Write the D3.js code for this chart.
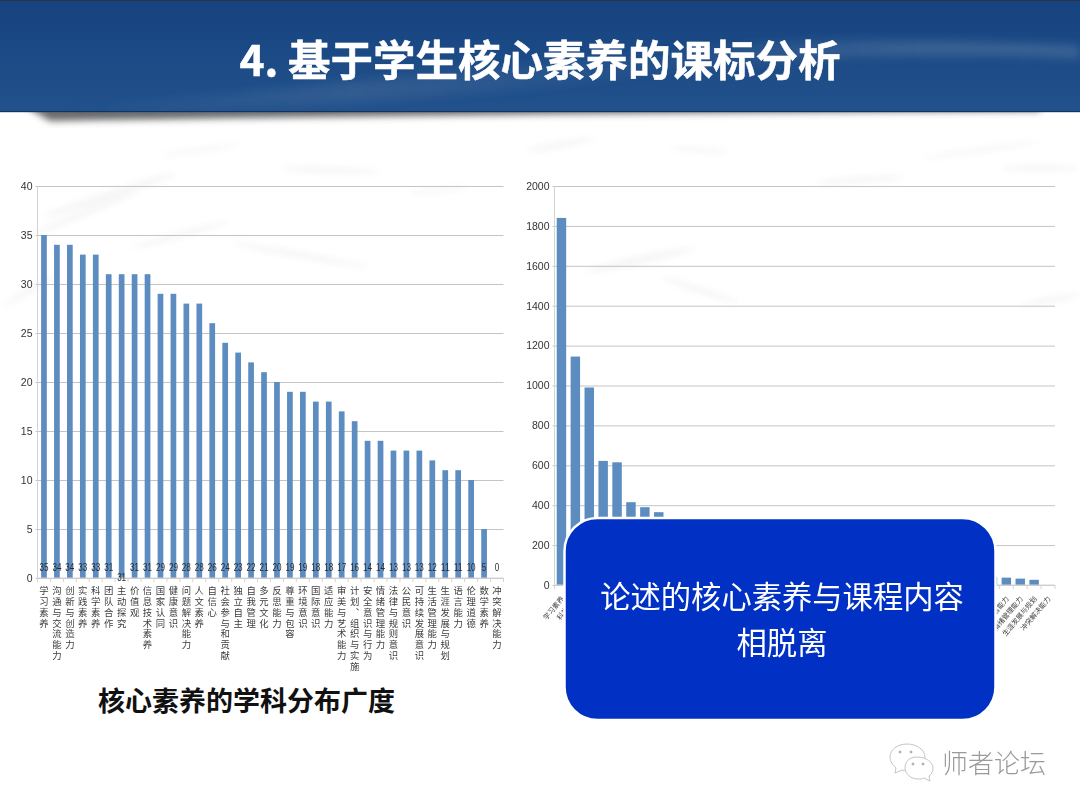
<!DOCTYPE html>
<html>
<head>
<meta charset="utf-8">
<script src="https://cdn.jsdelivr.net/npm/d3@7"></script>
<style>
  html, body { margin: 0; padding: 0; background: #fff; }
  svg { display: block; }
  .tick-label { font-family: "Liberation Sans Narrow", "Liberation Sans", sans-serif; font-size: 10.5px; fill: #333; }
  .cat-label { font-family: "Noto Sans CJK SC", sans-serif; fill: #3c3c3c; }
  .value-label { font-family: "Liberation Sans", sans-serif; font-size: 11px; fill: #2c2c2c; }
</style>
</head>
<body>
<div id="chart"></div>
<script>
const leftCategories = ['学习素养', '沟通与交流能力', '创新与创造力', '实践素养', '科学素养', '团队合作',
  '主动探究', '价值观', '信息技术素养', '国家认同', '健康意识', '问题解决能力', '人文素养', '自信心',
  '社会参与和贡献', '独立自主', '自我管理', '多元文化', '反思能力', '尊重与包容', '环境意识', '国际意识',
  '适应能力', '审美与艺术能力', '计划、组织与实施', '安全意识与行为', '情绪管理能力', '法律与规则意识',
  '公民意识', '可持续发展意识', '生活管理能力', '生涯发展与规划', '语言能力', '伦理道德', '数学素养', '冲突解决能力'];
const leftValues = [35, 34, 34, 33, 33, 31, 31, 31, 31, 29, 29, 28, 28, 26, 24, 23, 22, 21,
  20, 19, 19, 18, 18, 17, 16, 14, 14, 13, 13, 13, 12, 11, 11, 10, 5, 0];
const leftTicks = [0, 5, 10, 15, 20, 25, 30, 35, 40];

// the middle of this chart sits behind the blue box, those values are guesses
const rightCategories = ['学习素养', '科学素养', '实践素养', '创新与创造力', '沟通与交流能力', '团队合作',
  '主动探究', '价值观', '信息技术素养', '国家认同', '健康意识', '问题解决能力', '人文素养', '自信心',
  '社会参与和贡献', '独立自主', '自我管理', '多元文化', '尊重与包容', '环境意识', '国际意识',
  '适应能力', '审美与艺术能力', '计划、组织与实施', '安全意识与行为', '法律与规则意识', '公民意识',
  '可持续发展意识', '生活管理能力', '伦理道德', '数学素养', '反思能力', '语言能力', '情绪管理能力', '生涯发展与规划', '冲突解决能力'];
const rightValues = [1840, 1145, 990, 622, 615, 415, 390, 365, 320, 290, 260, 240, 220, 200, 185, 170,
  155, 140, 130, 120, 110, 100, 92, 85, 78, 72, 66, 60, 55, 50, 45, 40, 37, 32, 26, 0];
const rightTicks = [0, 200, 400, 600, 800, 1000, 1200, 1400, 1600, 1800, 2000];

const titleText = '4. 基于学生核心素养的课标分析';
const leftCaption = '核心素养的学科分布广度';
const boxLines = ['论述的核心素养与课程内容', '相脱离'];
const watermark = '师者论坛';

const width = 1080, height = 811;
const svg = d3.select('#chart').append('svg').attr('width', width).attr('height', height);
const defs = svg.append('defs');

function blur(id, amount) {
  defs.append('filter').attr('id', id)
      .attr('x', '-20%').attr('y', '-200%').attr('width', '140%').attr('height', '500%')
      .append('feGaussianBlur').attr('stdDeviation', amount);
}
blur('soft', 0.35);
blur('wisp', 3);
blur('shade', 3.5);
blur('glow', 5);

const headGrad = defs.append('linearGradient').attr('id', 'head').attr('x1', 0).attr('x2', 0).attr('y1', 0).attr('y2', 1);
headGrad.append('stop').attr('offset', 0).attr('stop-color', '#16437f');
headGrad.append('stop').attr('offset', 1).attr('stop-color', '#22518c');

const wedgeGrad = defs.append('linearGradient').attr('id', 'wedge').attr('x1', 0).attr('x2', 1).attr('y1', 0).attr('y2', 0);
wedgeGrad.append('stop').attr('offset', 0).attr('stop-color', '#3f6797').attr('stop-opacity', 0);
wedgeGrad.append('stop').attr('offset', 0.3).attr('stop-color', '#3f6797').attr('stop-opacity', 0.55);
wedgeGrad.append('stop').attr('offset', 0.6).attr('stop-color', '#3f6797').attr('stop-opacity', 0.15);
wedgeGrad.append('stop').attr('offset', 0.85).attr('stop-color', '#3f6797').attr('stop-opacity', 0.85);
wedgeGrad.append('stop').attr('offset', 1).attr('stop-color', '#3f6797').attr('stop-opacity', 0.9);

function drawBackground() {
  const wisps = svg.append('g').attr('fill', '#f1f1f1').attr('opacity', 0.7).attr('filter', 'url(#wisp)');
  const shapes = [[110, 195, 70, 4, -18], [80, 215, 60, 3, -22], [200, 150, 40, 2, -8], [330, 170, 50, 3, 2],
    [560, 145, 35, 3, -10], [700, 150, 30, 2, 4], [860, 180, 45, 3, -4], [1040, 168, 40, 3, 0],
    [980, 150, 60, 2, -8], [640, 260, 55, 4, -12], [700, 290, 40, 3, 18], [300, 255, 70, 3, 10],
    [180, 235, 50, 3, -15], [30, 290, 30, 3, -30], [1050, 300, 30, 3, -10], [440, 190, 30, 2, -6]];
  shapes.forEach(s => {
    wisps.append('ellipse').attr('cx', s[0]).attr('cy', s[1]).attr('rx', s[2]).attr('ry', s[3])
         .attr('transform', `rotate(${s[4]} ${s[0]} ${s[1]})`);
  });
}

function drawHeader() {
  // shadow under the band, heavy on the left and thinning out to the right
  svg.append('path')
     .attr('d', 'M25,106 L1040,106 L1040,111 C700,112 350,116 50,121 Z')
     .attr('fill', '#444').attr('opacity', 0.8).attr('filter', 'url(#shade)');
  svg.append('rect').attr('width', width).attr('height', 112).attr('fill', 'url(#head)');
  svg.append('path')
     .attr('d', 'M45,111 C220,95 520,65 760,44 C860,38 1000,42 1080,46 L1080,58 C880,50 720,62 600,80 C400,105 200,111 45,111 Z')
     .attr('fill', 'url(#wedge)').attr('filter', 'url(#glow)');
  svg.append('rect').attr('width', width).attr('height', 1).attr('fill', '#2b3445');
  svg.append('rect').attr('y', 111).attr('width', width).attr('height', 1.2).attr('fill', '#123461');
  svg.append('text').attr('x', 540).attr('y', 76).attr('text-anchor', 'middle')
     .attr('font-family', '"Noto Sans CJK SC", sans-serif').attr('font-weight', 700)
     .attr('font-size', 42.5).attr('fill', '#fff').attr('stroke', '#fff').attr('stroke-width', 0.5).text(titleText);
}

function drawBars(cfg) {
  const x = d3.scaleBand().domain(d3.range(cfg.categories.length))
              .range([cfg.left, cfg.right]).paddingInner(cfg.padding).paddingOuter(cfg.padding / 2);
  const y = d3.scaleLinear().domain([0, d3.max(cfg.ticks)]).range([cfg.bottom, cfg.top]);
  const g = svg.append('g').attr('filter', 'url(#soft)');

  const yAxis = d3.axisLeft(y).tickValues(cfg.ticks).tickFormat(d => d);
  const yG = g.append('g').attr('transform', `translate(${cfg.left},0)`).call(yAxis);
  yG.select('.domain').remove();
  yG.selectAll('.tick line').attr('stroke', '#c4c4c4').attr('stroke-width', 1)
    .attr('x1', -2).attr('x2', cfg.right - cfg.left);
  yG.selectAll('.tick text').attr('class', 'tick-label').attr('x', -5).attr('font-family', null).attr('font-size', null);
  g.append('line').attr('x1', cfg.left).attr('x2', cfg.left).attr('y1', cfg.top).attr('y2', cfg.bottom)
   .attr('stroke', '#d4d4d4');

  g.selectAll('rect.bar').data(cfg.values).enter().append('rect')
   .attr('class', 'bar')
   .attr('x', (d, i) => x(i))
   .attr('width', x.bandwidth())
   .attr('y', d => y(d))
   .attr('height', d => cfg.bottom - y(d))
   .attr('fill', '#5b8cc0');

  // axis ticks fall between the bars, the labels come from a tick-less axis
  g.selectAll('line.edge').data(d3.range(cfg.categories.length + 1)).enter().append('line')
   .attr('class', 'edge')
   .attr('x1', i => cfg.left + i * x.step()).attr('x2', i => cfg.left + i * x.step())
   .attr('y1', cfg.bottom).attr('y2', cfg.bottom + 4)
   .attr('stroke', '#d4d4d4');
  g.append('line').attr('x1', cfg.left).attr('x2', cfg.right).attr('y1', cfg.bottom).attr('y2', cfg.bottom)
   .attr('stroke', '#d4d4d4');

  const xAxis = d3.axisBottom(x).tickSize(0).tickFormat(i => cfg.categories[i]);
  const xG = g.append('g').attr('transform', `translate(0,${cfg.bottom})`).call(xAxis);
  xG.select('.domain').remove();
  cfg.styleLabels(xG.selectAll('.tick text').attr('class', 'cat-label').attr('font-family', null));
  return {x, y, g};
}

function drawLeft() {
  const {x, y, g} = drawBars({
    categories: leftCategories, values: leftValues, ticks: leftTicks,
    left: 37.5, right: 503.5, top: 186, bottom: 578, padding: 0.56,
    styleLabels: labels => labels
      .attr('font-size', 9.4)
      .attr('y', 8).attr('dy', 0)
      .style('writing-mode', 'vertical-rl')
      .style('text-orientation', 'upright')
      .style('letter-spacing', '1.4px')
      .attr('text-anchor', 'start')
  });
  // the source squeezes these numbers into the bar width
  g.selectAll('text.value-label').data(leftValues).enter().append('text')
   .attr('class', 'value-label')
   .attr('x', (d, i) => x(i) + x.bandwidth() / 2)
   .attr('y', (d, i) => leftCategories[i] === '主动探究' ? 581 : 570.5)
   .attr('text-anchor', 'middle')
   .attr('textLength', d => String(d).length * 4.5)
   .attr('lengthAdjust', 'spacingAndGlyphs')
   .text(d => d);
  svg.append('text').attr('x', 246.5).attr('y', 711).attr('text-anchor', 'middle')
     .attr('font-family', '"Noto Sans CJK SC", sans-serif').attr('font-weight', 700)
     .attr('font-size', 27).attr('fill', '#111').text(leftCaption);
}

function drawRight() {
  drawBars({
    categories: rightCategories, values: rightValues, ticks: rightTicks,
    left: 554.5, right: 1055, top: 186, bottom: 585, padding: 0.32,
    styleLabels: labels => labels
      .attr('font-size', 7)
      .attr('text-anchor', 'end')
      .attr('dy', 0).attr('y', 0)
      .attr('transform', 'translate(3,14) rotate(-50)')
  });
}

function drawBox() {
  svg.append('rect').attr('x', 564.5).attr('y', 518).attr('width', 431).attr('height', 202).attr('rx', 33)
     .attr('fill', '#0030c4').attr('stroke', '#fff').attr('stroke-width', 2.5);
  svg.selectAll('text.box-line').data(boxLines).enter().append('text')
     .attr('class', 'box-line')
     .attr('x', 782).attr('y', (d, i) => 608 + i * 46)
     .attr('text-anchor', 'middle')
     .attr('font-family', '"Noto Sans CJK SC", sans-serif')
     .attr('font-size', 30.3).attr('fill', '#fff').text(d => d);
}

function drawWatermark() {
  const g = svg.append('g').attr('fill', '#fff').attr('stroke', '#c4c4c4').attr('stroke-width', 1);
  g.append('path').attr('d', 'M907,744 C897,744 890,750 890,757 C890,762 893,765 896,768 L895,773 L902,770 C905,771 908,771 911,771 C920,771 925,765 925,757 C925,750 917,744 907,744 Z');
  g.append('path').attr('d', 'M917,757 C908,757 905,763 905,768 C905,774 911,779 918,779 C920,779 922,779 924,778 L930,781 L929,776 C932,774 933,771 933,768 C933,762 926,757 917,757 Z');
  [[900, 752], [911, 752], [913, 764], [923, 764]].forEach(p => {
    g.append('circle').attr('cx', p[0]).attr('cy', p[1]).attr('r', 1).attr('stroke', '#aaa').attr('fill', '#bbb');
  });
  svg.append('text').attr('x', 942).attr('y', 773)
     .attr('font-family', '"Noto Sans CJK SC", sans-serif').attr('font-weight', 300)
     .attr('font-size', 26).attr('fill', '#9a9a9a').text(watermark);
}

drawBackground();
drawHeader();
drawLeft();
drawRight();
drawBox();
drawWatermark();
</script>
</body>
</html>
